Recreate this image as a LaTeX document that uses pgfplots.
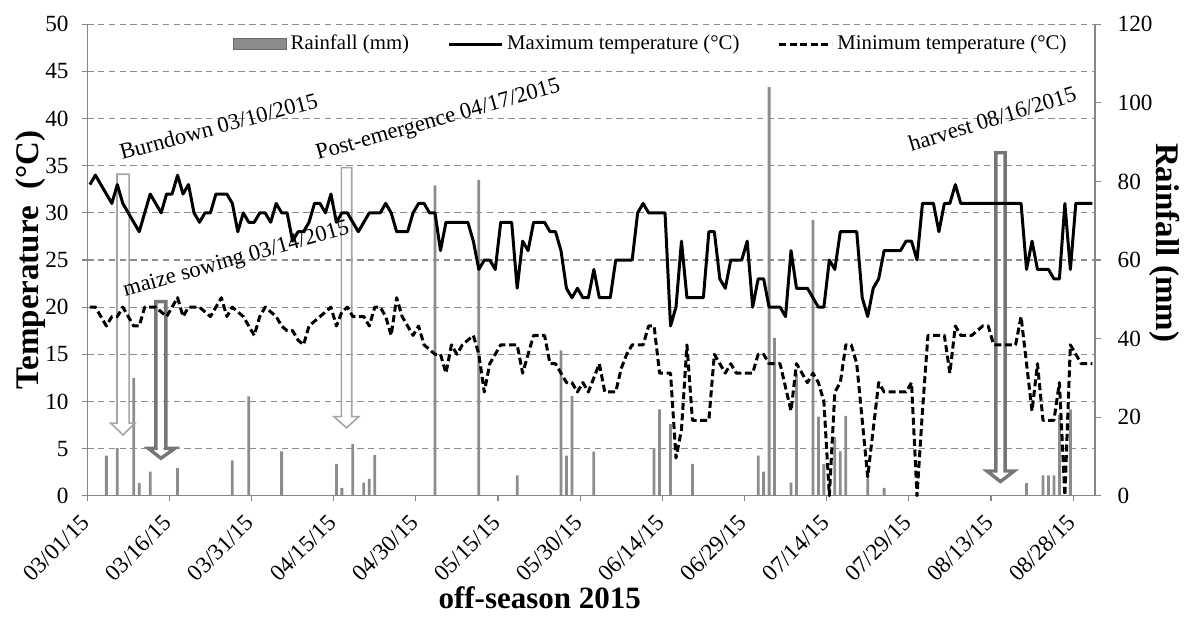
\documentclass[border=0pt]{standalone}
\usepackage{fontspec}
\setmainfont{Liberation Serif}
\usepackage{pgfplots}
\usepackage{pgfplotstable}
\pgfplotsset{compat=1.18}
\definecolor{barcol}{RGB}{140,140,140}
\definecolor{axcol}{RGB}{134,134,134}
\definecolor{gridcol}{RGB}{140,140,140}
\definecolor{arlight}{RGB}{165,165,165}
\definecolor{ardark}{RGB}{118,118,118}

\pgfplotstableread{
d tmax tmin
0 33 20
1 34 20
2 33 19
3 32 18
4 31 19
5 33 19
6 31 20
7 30 19
8 29 18
9 28 18
10 30 20
11 32 20
12 31 20
13 30 19.5
14 32 19
15 32 20
16 34 21
17 32 19
18 33 20
19 30 20
20 29 20
21 30 19.5
22 30 19
23 32 20
24 32 21
25 32 19
26 31 20
27 28 19.5
28 30 19
29 29 18
30 29 17
31 30 19
32 30 20
33 29 19.5
34 31 19
35 30 18
36 30 17.5
37 27 17.5
38 28 16.5
39 28 16
40 29 18
41 31 18.5
42 31 19
43 30 19.5
44 32 20
45 29 18
46 30 19.5
47 30 20
48 29 19
49 28 19
50 29 19
51 30 18
52 30 20
53 30 20
54 31 19
55 30 17
56 28 21
57 28 19
58 28 18
59 30 17
60 31 18
61 31 16
62 30 15.5
63 30 15
64 26 15
65 29 13
66 29 16
67 29 15
68 29 16
69 29 16.5
70 27 17
71 24 15
72 25 11
73 25 14
74 24 15
75 29 16
76 29 16
77 29 16
78 22 16
79 27 13
80 26 15
81 29 17
82 29 17
83 29 17
84 28 14
85 28 14
86 26 13
87 22 12
88 21 12
89 22 11
90 21 12
91 21 11
92 24 12.5
93 21 14
94 21 11
95 21 11
96 25 11
97 25 13.5
98 25 15
99 25 16
100 30 16
101 31 16
102 30 18
103 30 18
104 30 13
105 30 13
106 18 13
107 20 4
108 27 7
109 21 16
110 21 8
111 21 8
112 21 8
113 28 8
114 28 15
115 23 14
116 22 13
117 25 14
118 25 13
119 25 13
120 27 13
121 20 13
122 23 15
123 23 15
124 20 14
125 20 14
126 20 14
127 19 11.5
128 26 9
129 22 14
130 22 13
131 22 12
132 21 13
133 20 12
134 20 10
135 25 0
136 24 11
137 28 12
138 28 16
139 28 16
140 28 14
141 21 8
142 19 2
143 22 7
144 23 12
145 26 11
146 26 11
147 26 11
148 26 11
149 27 11
150 27 12
151 25 0
152 31 9
153 31 17
154 31 17
155 28 17
156 31 17
157 31 13
158 33 18
159 31 17
160 31 17
161 31 17
162 31 17.5
163 31 18
164 31 18
165 31 16
166 31 16
167 31 16
168 31 16
169 31 16
170 31 19
171 24 14
172 27 9
173 24 14
174 24 8
175 24 8
176 23 8
177 23 12
178 31 0
179 24 16
180 31 15
181 31 14
182 31 14
183 31 14
}\temps

\pgfplotstableread{
d rain
3 10.2
5 12.1
8 30
9 3.2
11 6.1
16 7
26 9
29 25.3
35 11.3
45 8.1
46 2
48 13.2
50 3.3
51 4.3
52 10.3
63 79
71 80.4
78 5.2
86 37
87 10.2
88 25.4
92 11.2
103 12.1
104 22
106 18.2
110 8.1
122 10.2
123 6.1
124 104
125 40.2
128 3.3
129 31
132 70.2
133 20.1
134 8.1
136 15
137 11.3
138 20.3
142 4.4
145 2
171 3.2
174 5.2
175 5.2
176 5.2
177 20.5
179 22
}\rain

\begin{document}
\begin{tikzpicture}
\pgfplotsset{
  base/.style={at={(0,0)}, anchor=south west, scale only axis,
    width=503.9bp, height=235.7bp, xmin=0, xmax=184,
    axis line style={draw=axcol, line width=0.6bp, -},
    tick style={draw=axcol, line width=0.6bp},
    tick align=outside, major tick length=2.8bp,
    ticklabel style={font=\fontsize{11.6bp}{13bp}\selectfont, text=black},
    /pgf/number format/assume math mode=true,
    clip=false,
  }
}
\begin{axis}[base, ymin=0, ymax=120,
  axis x line=none, axis y line*=right, ytick pos=right,
  ytick={0,20,...,120},
  yticklabel style={xshift=5bp},
  extra y ticks={12,24,36,48,60,72,84,96,108,120},
  extra y tick labels={},
  extra y tick style={grid=major, major tick length=0pt},
  grid style={gridcol, dash pattern=on 3.2bp off 2.2bp, line width=0.6bp},
  ylabel={Rainfall (mm)},
  every axis y label/.style={at={(axis description cs:1.0695,0.537)}, rotate=-90, anchor=center,
    font=\fontsize{16.5bp}{18bp}\selectfont\bfseries},
]
\addplot[ybar, bar width=1.4bp, bar shift=0pt, fill=barcol, draw=none]
  table[x expr=\thisrow{d}+0.5, y=rain]{\rain};
\end{axis}

\begin{axis}[base, ymin=0, ymax=50,
  axis x line*=bottom, axis y line*=left, ytick pos=left, xtick pos=bottom,
  ytick={0,5,...,50},
  xtick={0,15,...,180},
  xticklabels={03/01/15,03/16/15,03/31/15,04/15/15,04/30/15,05/15/15,05/30/15,06/14/15,06/29/15,07/14/15,07/29/15,08/13/15,08/28/15},
  xticklabel style={yshift=-8bp, rotate=45, anchor=east, inner sep=1bp},
  yticklabel style={xshift=-3bp},
  ylabel={Temperature\ \ (°C)},
  every axis y label/.style={at={(axis description cs:-0.0565,0.5)}, rotate=90, anchor=center,
    font=\fontsize{16.5bp}{18bp}\selectfont\bfseries},
  xlabel={off-season 2015},
  every axis x label/.style={at={(axis description cs:0.449,-0.217)}, anchor=center,
    font=\fontsize{15.5bp}{17bp}\selectfont\bfseries},
  legend columns=3,
  legend image code/.code={\draw[#1] (0bp,0bp) -- (26.5bp,0bp);},
  legend style={at={(axis description cs:0.56,0.958)}, anchor=center, draw=none, fill=none,
    font=\fontsize{10.4bp}{12bp}\selectfont, inner sep=0pt,
    /tikz/every even column/.append style={column sep=17bp}},
]
\addlegendimage{legend image code/.code={\draw[fill=barcol, draw=barcol!75!black, line width=0.5bp] (0bp,-2.7bp) rectangle (26.5bp,2.7bp);}}
\addlegendentry{Rainfall (mm)}

% annotations (block arrows)
\draw[arlight, line width=0.8bp] (axis cs:5.45,34.1) -- (axis cs:7.66,34.1) -- (axis cs:7.66,7.7) -- (axis cs:8.72,7.7) -- (axis cs:6.55,6.44) -- (axis cs:4.29,7.7) -- (axis cs:5.45,7.7) -- cycle;
\draw[arlight, line width=0.8bp] (axis cs:46.4,34.8) -- (axis cs:48.3,34.8) -- (axis cs:48.3,8.38) -- (axis cs:49.58,8.38) -- (axis cs:47.35,7.2) -- (axis cs:45.07,8.38) -- (axis cs:46.4,8.38) -- cycle;
\draw[ardark, line width=1.7bp] (axis cs:12.55,20.58) -- (axis cs:14.37,20.58) -- (axis cs:14.37,5.02) -- (axis cs:16.02,5.02) -- (axis cs:13.46,3.97) -- (axis cs:11.16,5.02) -- (axis cs:12.55,5.02) -- cycle;
\draw[ardark, line width=1.7bp] (axis cs:165.9,36.38) -- (axis cs:167.6,36.38) -- (axis cs:167.6,2.62) -- (axis cs:169.24,2.62) -- (axis cs:166.75,1.5) -- (axis cs:164.26,2.62) -- (axis cs:165.9,2.62) -- cycle;

\node[rotate=15, anchor=base west, inner sep=0pt, font=\fontsize{11.3bp}{13bp}\selectfont] at (axis cs:6.29,35.6) {Burndown 03/10/2015};
\node[rotate=15.8, anchor=base west, inner sep=0pt, font=\fontsize{11.3bp}{13bp}\selectfont] at (axis cs:42.1,35.6) {Post-emergence 04/17/2015};
\node[rotate=15.7, anchor=base west, inner sep=0pt, font=\fontsize{11.3bp}{13bp}\selectfont] at (axis cs:6.9,21.1) {maize sowing 03/14/2015};
\node[rotate=17, anchor=base west, inner sep=0pt, font=\fontsize{11.3bp}{13bp}\selectfont] at (axis cs:150.4,36.5) {harvest 08/16/2015};

\addplot[black, line width=1.5bp, line join=round] table[x expr=\thisrow{d}+0.5, y=tmax]{\temps};
\addlegendentry{Maximum temperature (°C)}
\addplot[black, line width=1.5bp, line join=round, dash pattern=on 3.5bp off 1.8bp] table[x expr=\thisrow{d}+0.5, y=tmin]{\temps};
\addlegendentry{Minimum temperature (°C)}
\end{axis}
\pgfresetboundingbox
\path[use as bounding box] (-43.6bp,-61.15bp) rectangle (548.9bp,247.85bp);
\end{tikzpicture}
\end{document}
